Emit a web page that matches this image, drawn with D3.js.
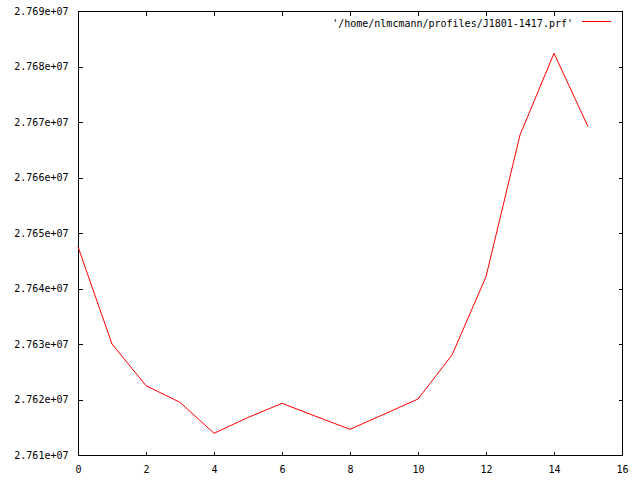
<!DOCTYPE html>
<html>
<head>
<meta charset="utf-8">
<script src="https://cdn.jsdelivr.net/npm/d3@7"></script>
<style>
  body { margin: 0; background: #fff; }
  text { font-family: "DejaVu Sans Mono", monospace; font-size: 10px; fill: #000; }
</style>
</head>
<body>
<script>
// profile samples
const xs = [0, 1, 2, 3, 4, 5, 6, 7, 8, 9, 10, 11, 12, 13, 14, 15]
const ys = [27647530, 27630000, 27622490, 27619490, 27613910, 27616760, 27619310, 27616950,
            27614630, 27617350, 27620090, 27628020, 27642130, 27667660, 27682380, 27669150]
const xTicks = [0, 2, 4, 6, 8, 10, 12, 14, 16]
const yTicks = [27610000, 27620000, 27630000, 27640000, 27650000, 27660000, 27670000, 27680000, 27690000]
const legendLabel = "'/home/nlmcmann/profiles/J1801-1417.prf'"

const W = 640, H = 480
const m = { left: 78, right: 18, top: 11, bottom: 25 }

const svg = d3.select("body").append("svg")
  .attr("width", W)
  .attr("height", H)

const x = d3.scaleLinear().domain([0, 16]).range([m.left, W - m.right])
const y = d3.scaleLinear().domain([27610000, 27690000]).range([H - m.bottom, m.top])

const fmt = v => (v / 1e7).toFixed(3) + "e+07"
const tk = 4

// frame
svg.append("rect")
  .attr("x", m.left + 0.5).attr("y", m.top + 0.5)
  .attr("width", x(16) - x(0)).attr("height", y(27610000) - y(27690000))
  .attr("fill", "none").attr("stroke", "black").attr("shape-rendering", "crispEdges")

// axes, ticks drawn inward and mirrored
const gBottom = svg.append("g").attr("transform", `translate(0,${y(27610000) + 0.5})`)
  .call(d3.axisBottom(x).tickValues(xTicks).tickSizeInner(-tk).tickSizeOuter(0).tickPadding(8))
const gTop = svg.append("g").attr("transform", `translate(0,${y(27690000) + 0.5})`)
  .call(d3.axisTop(x).tickValues(xTicks.slice(1, -1)).tickSizeInner(-tk).tickSizeOuter(0).tickFormat(""))
const gLeft = svg.append("g").attr("transform", `translate(${x(0) + 0.5},0)`)
  .call(d3.axisLeft(y).tickValues(yTicks).tickSizeInner(-tk).tickSizeOuter(0).tickPadding(10).tickFormat(fmt))
const gRight = svg.append("g").attr("transform", `translate(${x(16) + 0.5},0)`)
  .call(d3.axisRight(y).tickValues(yTicks.slice(1, -1)).tickSizeInner(-tk).tickSizeOuter(0).tickFormat(""))

for (const g of [gBottom, gTop, gLeft, gRight]) {
  g.select(".domain").remove()
  g.selectAll("line").attr("stroke", "black").attr("shape-rendering", "crispEdges")
  g.selectAll("text").attr("font-family", null).attr("font-size", null).attr("fill", "black")
}
gBottom.selectAll("text").attr("dy", "0.9em")

// the data line
const line = d3.line()
  .x((d, i) => x(xs[i]))
  .y(d => y(d))
svg.append("path")
  .attr("d", line(ys))
  .attr("fill", "none")
  .attr("stroke", "red")
  .attr("stroke-width", 1)

// key
svg.append("text")
  .attr("x", 573).attr("y", 23).attr("dy", "0.35em")
  .attr("text-anchor", "end")
  .text(legendLabel)
svg.append("line")
  .attr("x1", 582).attr("x2", 611)
  .attr("y1", 21.5).attr("y2", 21.5)
  .attr("stroke", "red")
  .attr("shape-rendering", "crispEdges")
</script>
</body>
</html>
